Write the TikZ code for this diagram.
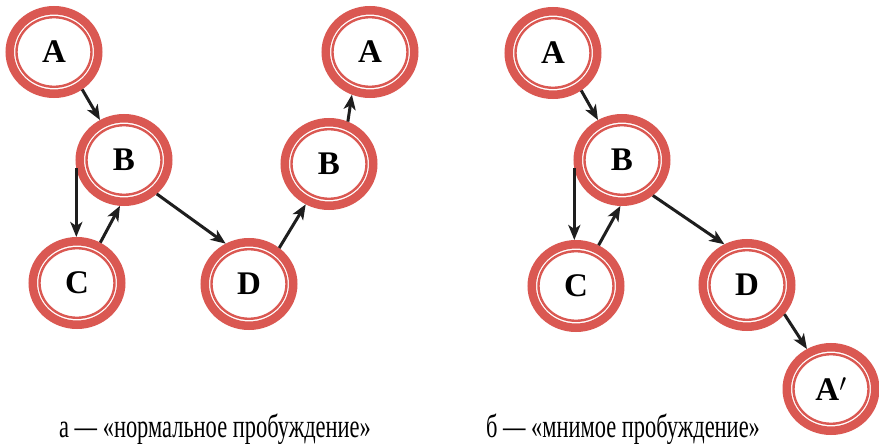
\documentclass[tikz,border=0pt]{standalone}
\usepackage{fontspec}
\setmainfont{Liberation Serif}
\newfontfamily\capfont[FakeStretch=0.68]{Liberation Serif}
\usetikzlibrary{shapes.geometric,arrows.meta}
\definecolor{ringred}{RGB}{218,88,82}
\definecolor{arrblack}{RGB}{30,30,30}
\begin{document}
\begin{tikzpicture}[x=1pt,y=-1pt,
  ring/.style={ellipse, draw=ringred, line width=8.5pt, minimum width=88.5pt, minimum height=83.5pt,
    inner sep=0pt, font=\bfseries\fontsize{33}{33}\selectfont,
    path picture={\draw[ringred,line width=2.4pt] (path picture bounding box.center) ellipse [x radius=37.5pt, y radius=34.8pt];}},
  arr/.style={-{Stealth[length=15pt,width=12pt,inset=4pt]}, line width=3pt, draw=arrblack},
  captext/.style={anchor=base, inner sep=0pt, font=\capfont\fontsize{33}{33}\selectfont}]
\useasboundingbox (0,0) rectangle (879,444);
% left diagram
\node[ring] (A1) at (54,52) {A};
\node[ring] (B1) at (124,160) {B};
\node[ring] (C1) at (77,283) {C};
\node[ring] (D1) at (249,284) {D};
\node[ring] (B2) at (329,164) {B};
\node[ring] (A2) at (370,52) {A};
\draw[arr] (A1.307) -- (B1.121);
\draw[arr] (B1.190) -- (B1.190 |- C1.north);
\draw[arr] (C1.60) -- (B1.265);
\draw[arr] (B1.314) -- (D1.120);
\draw[arr] (D1.50) -- (B2.240);
\draw[arr] (B2.66) -- (A2.247);
% right diagram
\node[ring] (A3) at (553,53) {A};
\node[ring] (B3) at (622,160) {B};
\node[ring] (C3) at (576,286) {C};
\node[ring] (D3) at (747,285) {D};
\node[ring] (A4) at (831,389) {A$'$};
\draw[arr] (A3.307) -- (B3.121);
\draw[arr] (B3.190) -- (B3.190 |- C3.north);
\draw[arr] (C3.61) -- (B3.268);
\draw[arr] (B3.311) -- (D3.119);
\draw[arr] (D3.322) -- (A4.121);
% captions
\node[captext] (cap1) at (215,437) {а — «нормальное пробуждение»};
\node[captext] (cap2) at (623,437) {б — «мнимое пробуждение»};
\end{tikzpicture}
\end{document}
